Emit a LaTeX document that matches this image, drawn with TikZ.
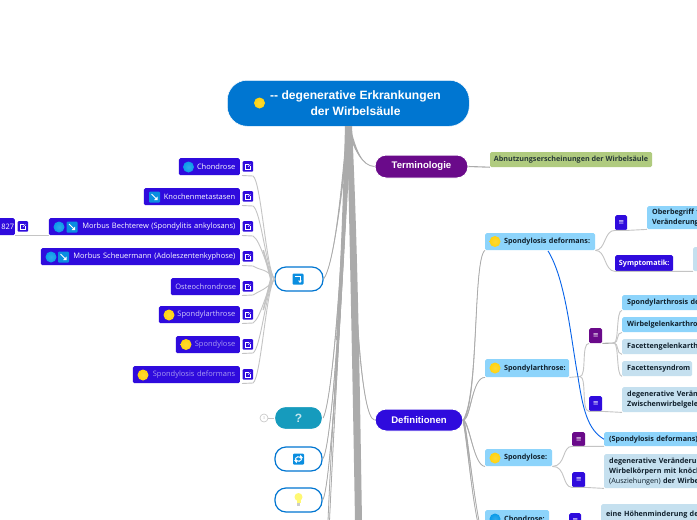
\documentclass[tikz,border=0pt]{standalone}
\usepackage{fontspec}
\setmainfont{Open Sans}
\newfontfamily\titlefont{Liberation Sans}
\newfontfamily\symfont{DejaVu Sans}
\usetikzlibrary{calc}
\definecolor{deepblue}{HTML}{2F0BDD}
\definecolor{purp}{HTML}{6A0A8A}
\definecolor{rootblue}{HTML}{0076D1}
\definecolor{sky}{HTML}{8DD4FB}
\definecolor{pale}{HTML}{C5E0EF}
\definecolor{leaf}{HTML}{B0CB7F}
\definecolor{conngray}{HTML}{ABABAB}
\definecolor{lightgray2}{HTML}{C4C4C4}
\definecolor{teal2}{HTML}{169BBD}
\definecolor{iconblue}{HTML}{0A8EE0}
\definecolor{coinblue}{HTML}{0A9BE8}
\definecolor{coinyellow}{HTML}{FFD20F}
\definecolor{ink}{HTML}{10202C}
\definecolor{lav}{HTML}{A99BF0}
\definecolor{lavb}{HTML}{D3CBFA}
\tikzset{
  conn/.style={draw=lightgray2,line width=0.9pt},
  linkline/.style={draw=iconblue!70!blue,line width=0.9pt},
  major/.style={rounded corners=11pt,draw=white,line width=1pt,text=white,font=\titlefont\bfseries\fontsize{9.6}{12}\selectfont,inner sep=0pt},
  hubbox/.style={rounded corners=11pt,draw=rootblue,line width=1.2pt,fill=white,inner sep=0pt},
  lbox/.style={fill=deepblue,rounded corners=1.5pt,inner ysep=0pt,inner xsep=4.5pt,font=\fontsize{7.5}{9}\selectfont,text=white,align=right,anchor=north east,minimum height=17pt},
  rbox/.style={rounded corners=1.5pt,inner ysep=0pt,inner xsep=5pt,font=\fontsize{7.2}{10}\selectfont\bfseries,text=ink,align=left,anchor=north west},
  tick/.style={rounded corners=1.5pt,inner sep=0pt,text=white,font=\symfont\fontsize{7}{8}\selectfont,anchor=north west},
  linksq/.style={fill=deepblue,rounded corners=1pt,minimum size=10.5pt,inner sep=0pt,anchor=north west}
}
% left box: name, left x, top y, text colour, text
\newcommand{\LBox}[5]{%
  \pgfmathsetmacro{\boxt}{240-#2-9}%
  \node[lbox,text width=\boxt pt,text=#4] (#1) at (240,#3) {#5};
  \coordinate (#1b) at (242,#3+17.5);
}
\newcommand{\Ext}[3]{% x y name: link square
  \node[linksq] (#3) at (#1,#2) {};
  \draw[white,line width=0.5pt] ($(#3.center)+(0.6,-2.4)$) -- ++(-3,0) -- ++(0,5) -- ++(5,0) -- ++(0,-3);
  \draw[white,line width=0.5pt] ($(#3.center)+(0,0.4)$) -- ++(2.6,-2.8);
}
\newcommand{\Coin}[4]{% x y r colour
  \shade[inner color=#4!85!white,outer color=#4] (#1,#2) circle (#3);
}
\newcommand{\ArrIcon}[2]{%
  \fill[iconblue,rounded corners=1pt] (#1-5.5,#2-5.5) rectangle (#1+5.5,#2+5.5);
  \draw[white,line width=1pt] (#1-3,#2-3) -- (#1+1.5,#2+1.5);
  \fill[white] (#1+3,#2+3) -- (#1+3,#2-0.5) -- (#1-0.5,#2+3) -- cycle;
}
\newcommand{\Taper}[5]{% from, c1, c2, to, width
  \fill[conngray] ($(#1)+(-#5/2,0)$) .. controls ($(#2)+(-#5/3,0)$) and (#3) .. (#4) .. controls (#3) and ($(#2)+(#5/3,0)$) .. ($(#1)+(#5/2,0)$) -- cycle;
  \draw[conngray,line width=0.8pt] (#1) .. controls (#2) and (#3) .. (#4);
}
\newcommand{\CoinText}[1]{\mbox{\hspace*{14pt}#1}}
\begin{document}
\begin{tikzpicture}[x=1pt,y=-1pt]
\useasboundingbox (0,0) rectangle (697,520);
\clip (0,0) rectangle (697,520);
\fill[white] (0,0) rectangle (697,520);

% ---------- nodes that anchor connectors
\node[fill=rootblue,draw=white,line width=0.5pt,rounded corners=20pt,minimum width=242pt,minimum height=46pt,inner sep=0pt,anchor=north west,text=white] (root) at (227,80) {};
\node[major,fill=purp,minimum width=93pt,minimum height=23pt] (term) at (421.5,166.5) {Terminologie};
\node[major,fill=deepblue,minimum width=88pt,minimum height=22pt] (defs) at (419,420) {Definitionen};
\node[hubbox,minimum width=48pt,minimum height=24pt] (hub) at (299,279) {};
\node[hubbox,fill=teal2,draw=white,minimum width=48pt,minimum height=23pt,text=white!75!teal2,font=\titlefont\bfseries\fontsize{12}{12}\selectfont] (quest) at (298.5,418) {?};
\node[hubbox,minimum width=47pt,minimum height=24pt] (refr) at (298.5,459) {};
\node[hubbox,minimum width=47pt,minimum height=24pt] (bulb) at (298.5,500) {};
\coordinate (downa) at (328,521);
\coordinate (downb) at (329.5,521);
\coordinate (downd) at (479,521);
\coordinate (downe) at (477.5,521);

% ---------- trunk connectors from the root
\Taper{root.south}{344,260}{333,400}{downa}{3}
\Taper{root.south}{344,260}{335,400}{downb}{3}
\Taper{root.south}{343,280}{331,490}{bulb.east}{3}
\Taper{root.south}{344,260}{332,450}{refr.east}{3}
\Taper{root.south}{344,240}{333,400}{quest.east}{3}
\Taper{root.south}{342,190}{334,265}{hub.east}{3}
\Taper{root.south}{354,300}{361,418}{defs.west}{3}
\Taper{root.south}{355,150}{362,166}{term.west}{4}
\fill[conngray] (347,126) .. controls (350,250) and (353,400) .. (355,521) -- (362,521) .. controls (360,400) and (358,250) .. (352,126) -- cycle;
\fill[conngray] (345,126) .. controls (343,200) and (340,280) .. (336,340) -- (339,340) .. controls (343,280) and (347,200) .. (352,126) -- cycle;

% ---------- root text
\node[text=white,align=center,font=\titlefont\bfseries\fontsize{12.1}{16}\selectfont] (roottxt) at (355.5,103) {-- degenerative Erkrankungen\\der Wirbelsäule};
\Coin{259.5}{103}{5.5}{coinyellow}

% ---------- terminology leaf
\node[fill=leaf,rounded corners=1.5pt,minimum width=162pt,minimum height=15pt,inner sep=0pt,font=\fontsize{7.2}{8}\selectfont\bfseries,text=ink!85!leaf] (abn) at (571,159.5) {Abnutzungserscheinungen der Wirbelsäule};
\draw[conngray,line width=1.1pt] (term.east) -- (abn.south west);

% ---------- left boxes
\LBox{chon}{179}{158}{white}{Chondrose}
\LBox{kno}{144}{188}{white}{Knochenmetastasen}
\LBox{bech}{49}{218}{white}{Morbus Bechterew (Spondylitis ankylosans)}
\LBox{sche}{41}{248}{white}{Morbus Scheuermann (Adoleszentenkyphose)}
\LBox{oste}{171}{278}{lavb}{Osteochrondrose}
\LBox{sarth}{159}{306}{lavb}{Spondylarthrose}
\LBox{slose}{176}{336}{lav}{Spondylose}
\LBox{sdef}{133}{366}{lav}{Spondylosis deformans}
\Ext{242.5}{161}{ex1}
\Ext{242.5}{191}{ex2}
\Ext{242.5}{221}{ex3}
\Ext{242.5}{251}{ex4}
\Ext{242.5}{281}{ex5}
\Ext{242.5}{309}{ex6}
\Ext{242.5}{339}{ex7}
\Ext{242.5}{369}{ex8}
\node[fill=deepblue,rounded corners=1.5pt,minimum height=17pt,minimum width=20pt,inner sep=0pt,anchor=north east,font=\fontsize{7.5}{9}\selectfont,text=white,align=right] (num) at (15,218) {\hspace*{6pt}827};
\Ext{17.5}{221}{ex0}
\Coin{188.5}{167}{5.5}{coinblue}
\Coin{59}{227}{5.5}{coinblue}
\Coin{51}{257}{5.5}{coinblue}
\ArrIcon{154.5}{197}
\ArrIcon{72}{227}
\ArrIcon{63.5}{257}
\Coin{169}{315}{5.5}{coinyellow}
\Coin{186}{344.5}{5.5}{coinyellow}
\Coin{143}{375}{5.5}{coinyellow}
\draw[conn] (num.south east) -- (bech.south west);
% hub branches
\foreach \b in {chonb,knob,bechb,scheb} {
  \draw[conn] (\b) -- ++(11,0.5) .. controls ++(8,5) and (266,268) .. (hub.west);
}
\foreach \b in {osteb,sarthb,sloseb,sdefb} {
  \draw[conn] (\b) -- ++(11,-0.5) .. controls ++(8,-5) and (266,290) .. (hub.west);
}
\fill[lightgray2] (272.5,279) -- (264,250) -- (262.5,250) -- (270,279) -- (262.5,310) -- (264,310) -- cycle;

% ---------- hub icons
\fill[iconblue,rounded corners=1pt] (292.5,273.5) rectangle (303.5,284.5);
\draw[white,line width=1pt] (294.5,276) -- (300,276) -- (300,281);
\fill[white] (298,280.5) -- (302,280.5) -- (300,283) -- cycle;
\fill[iconblue,rounded corners=1pt] (293,453.5) rectangle (304,464.5);
\draw[white,line width=1pt] (295.2,458.5) arc[start angle=170,end angle=30,radius=3.4];
\draw[white,line width=1pt] (301.8,459.5) arc[start angle=-10,end angle=-150,radius=3.4];
\fill[white] (300.5,454.8) -- (303,458) -- (299.5,458) -- cycle;
\fill[white] (296.5,463.2) -- (294,460) -- (297.5,460) -- cycle;
\fill[yellow!55!white] (298.5,497) circle (4);
\fill[yellow!55!white] (296.5,499) rectangle (300.5,503);
\fill[gray!40] (297,503) rectangle (300,505.5);
\node[circle,draw=lightgray2,fill=white,line width=0.6pt,minimum size=8pt,inner sep=0pt,text=lightgray2,font=\fontsize{4}{4}\selectfont] (qnum) at (264,418) {3};
\draw[conn] (qnum.east) -- (quest.west);

% ---------- right column: level 1
\node[rbox,fill=sky,text width=100pt,minimum height=17pt] (r1) at (485,233) {\CoinText{Spondylosis deformans:}};
\node[rbox,fill=sky,text width=74pt,minimum height=18pt] (r2) at (485,359) {\CoinText{Spondylarthrose:}};
\node[rbox,fill=sky,text width=57pt,minimum height=17pt] (r3) at (485,449) {\CoinText{Spondylose:}};
\node[rbox,fill=sky,text width=54pt,minimum height=17pt] (r4) at (485,510) {\CoinText{Chondrose:}};
\Coin{495}{241.5}{5.5}{coinyellow}
\Coin{495}{368}{5.5}{coinyellow}
\Coin{495}{458}{5.5}{coinyellow}
\Coin{495}{519}{5.5}{coinblue}
% definitions fan
\Taper{defs.east}{479,395}{473,258}{r1.south west}{1.5}
\Taper{defs.east}{471,418}{472,377}{r2.south west}{1.5}
\Taper{defs.east}{470,425}{474,466}{r3.south west}{1.5}
\Taper{defs.east}{468,440}{473,490}{downd}{2}
\Taper{defs.east}{467,440}{471,490}{downe}{2}

% ---------- level 2 ticks
\node[tick,fill=deepblue,minimum width=12pt,minimum height=15pt] (t1) at (615,215) {≡};
\node[tick,fill=deepblue,minimum width=58pt,minimum height=16pt,font=\fontsize{7.2}{9}\selectfont\bfseries] (t2) at (615,255) {Symptomatik:};
\node[tick,fill=purp,minimum width=13pt,minimum height=15pt] (t3) at (589,328) {≡};
\node[tick,fill=deepblue,minimum width=13pt,minimum height=15pt] (t4) at (589,396) {≡};
\node[tick,fill=purp,minimum width=13pt,minimum height=14pt] (t5) at (572,432) {≡};
\node[tick,fill=deepblue,minimum width=13pt,minimum height=15pt] (t6) at (572,472) {≡};
\node[tick,fill=deepblue,minimum width=12pt,minimum height=15pt] (t7) at (569,513) {≡};

% ---------- level 3 boxes
\node[rbox,fill=sky,text width=110pt,minimum height=23pt] (b1) at (647,206) {Oberbegriff für\\Veränderungen};
\node[rbox,fill=pale,text width=50pt,minimum height=24pt] (b2) at (693,247) {};
\node[rbox,fill=sky,text width=120pt,minimum height=15pt] (b3) at (622,295) {Spondylarthrosis deformans};
\node[rbox,fill=sky,text width=120pt,minimum height=15pt] (b4) at (622,317) {Wirbelgelenkarthrose};
\node[rbox,fill=pale,text width=120pt,minimum height=15pt] (b5) at (622,339) {Facettengelenkarthrose};
\node[rbox,fill=pale,text width=60pt,minimum height=15pt] (b6) at (622,361) {Facettensyndrom};
\node[rbox,fill=pale,text width=120pt,minimum height=25pt] (b7) at (622,387) {degenerative Veränderungen\\Zwischenwirbelgelenke};
\node[rbox,fill=sky,text width=120pt,minimum height=14pt] (b8) at (604,432) {(Spondylosis deformans)};
\node[rbox,fill=pale,text width=130pt,minimum height=34pt] (b9) at (604,454) {degenerative Veränderungen\\Wirbelkörpern mit knöchernen\\{\mdseries (Ausziehungen)} der Wirbel};
\node[rbox,fill=pale,text width=130pt,minimum height=30pt] (b10) at (601,504) {eine Höhenminderung der\\degenerative Prozesse};

% ---------- level connectors
\coordinate (r2r) at (580,376.5);
\coordinate (t3r) at (614,343);
\draw[conn] (r1.south east) .. controls (606,250) and (604,230) .. (t1.south west) -- (t1.south east) -- (b1.south west);
\draw[conn] (r1.south east) .. controls (606,250) and (604,271) .. (t2.south west) -- (t2.south east) -- (b2.south west);
\draw[conn] (r2.south east) -- (r2r) .. controls (587,376) and (581,343) .. (t3.south west);
\draw[conn] (r2r) .. controls (587,377) and (581,411) .. (t4.south west) -- (t4.south east) -- (b7.south west);
\draw[conngray,line width=1.1pt] (t3.south east) -- (t3r);
\foreach \b/\y in {b3/310,b4/332,b5/354,b6/376} {\draw[conn] (t3r) .. controls (619,343) and (616,\y) .. (\b.south west);}
\draw[conn] (r3.south east) .. controls (566,466) and (562,446) .. (t5.south west) -- (t5.south east) -- (b8.south west);
\draw[conn] (r3.south east) .. controls (566,466) and (562,487) .. (t6.south west) -- (t6.south east) -- (b9.south west);
\draw[linkline] ($(r1.south west)+(63,0.5)$) .. controls (566,280) and (571,340) .. (578,377) .. controls (583,410) and (588,430) .. (b8.west);
\end{tikzpicture}
\end{document}
